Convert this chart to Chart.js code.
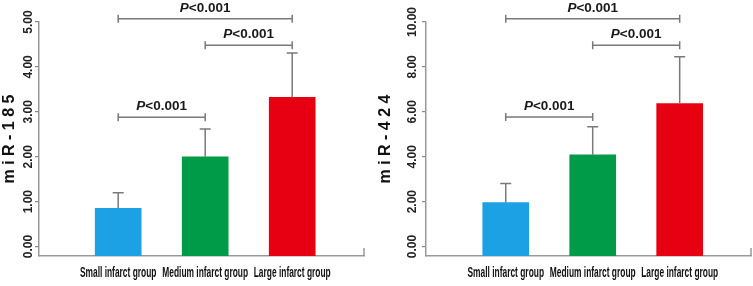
<!DOCTYPE html>
<html>
<head>
<meta charset="utf-8">
<script src="https://cdn.jsdelivr.net/npm/chart.js@4.4.0/dist/chart.umd.min.js"></script>
<style>
  html, body { margin: 0; padding: 0; background: #fff; }
  .panel { position: absolute; top: 0; }
</style>
</head>
<body>
<div class="panel" style="left:0;"><canvas id="chart185" width="376" height="286"></canvas></div>
<div class="panel" style="left:376px;"><canvas id="chart424" width="377" height="286"></canvas></div>
<script>
// ── data ──
const groups = ['Small infarct group', 'Medium infarct group', 'Large infarct group'];
const groupPos = [1, 2, 3];

const mir185Mean = [0.85, 2.0, 3.32];
const mir185Sd = [0.35, 0.62, 0.99];
const mir185Ticks = [0, 1, 2, 3, 4, 5];

const mir424Mean = [1.96, 4.09, 6.37];
const mir424Sd = [0.85, 1.25, 2.08];
const mir424Ticks = [0, 2, 4, 6, 8, 10];

// significance brackets: from group, to group, height, label
const pFrom = [1, 2, 1];
const pTo = [3, 3, 2];
const mir185PY = [5.07, 4.48, 2.88];
const mir424PY = [10.15, 8.97, 5.77];
const pLabels = ['P<0.001', 'P<0.001', 'P<0.001'];

const barColors = ['#1BA1E4', '#009B48', '#E60012'];
const lineGray = '#7a7a7a';

// error bars (upper whisker only), brackets, condensed group labels
const annotPlugin = {
    id: 'annot',
    afterDraw(chart) {
        const o = chart.options.plugins.annot;
        const ctx = chart.ctx;
        const xs = chart.scales.x, ys = chart.scales.y;
        const area = chart.chartArea;
        ctx.save();
        ctx.strokeStyle = lineGray;
        ctx.lineWidth = 1.5;

        // error bars
        const meta = chart.getDatasetMeta(0);
        meta.data.forEach((bar, i) => {
            const top = ys.getPixelForValue(o.mean[i] + o.sd[i]);
            ctx.beginPath();
            ctx.moveTo(bar.x, bar.y);
            ctx.lineTo(bar.x, top);
            ctx.moveTo(bar.x - 5.5, top);
            ctx.lineTo(bar.x + 5.5, top);
            ctx.stroke();
        });

        // brackets
        o.from.forEach((f, i) => {
            const x1 = xs.getPixelForValue(f);
            const x2 = xs.getPixelForValue(o.to[i]);
            const y = ys.getPixelForValue(o.py[i]);
            ctx.strokeStyle = lineGray;
            ctx.beginPath();
            ctx.moveTo(x1, y); ctx.lineTo(x2, y);
            ctx.moveTo(x1, y - 4); ctx.lineTo(x1, y + 4);
            ctx.moveTo(x2, y - 4); ctx.lineTo(x2, y + 4);
            ctx.stroke();

            // label: italic P + rest
            const lbl = o.labels[i];
            const head = lbl.charAt(0), rest = lbl.slice(1);
            const fItal = 'italic bold 13.5px "Liberation Sans", Arial, sans-serif';
            const fBold = 'bold 13.5px "Liberation Sans", Arial, sans-serif';
            ctx.font = fItal;
            const w1 = ctx.measureText(head).width;
            ctx.font = fBold;
            const w2 = ctx.measureText(rest).width;
            const tx = (x1 + x2) / 2 - (w1 + w2) / 2;
            ctx.fillStyle = '#1a1a1a';
            ctx.textBaseline = 'alphabetic';
            ctx.textAlign = 'left';
            ctx.font = fItal;
            ctx.fillText(head, tx, y - 7);
            ctx.font = fBold;
            ctx.fillText(rest, tx + w1, y - 7);
        });

        // group names under the axis, squeezed like the original condensed face
        ctx.fillStyle = '#111';
        ctx.font = 'bold 15px "Liberation Sans", Arial, sans-serif';
        ctx.textAlign = 'center';
        ctx.textBaseline = 'alphabetic';
        groupPos.forEach((p, i) => {
            const cx = xs.getPixelForValue(p);
            ctx.save();
            ctx.translate(cx, area.bottom + 21);
            ctx.scale(0.56, 1);
            ctx.fillText(groups[i], 0, 0);
            ctx.restore();
        });

        // stub at the right end of the x axis
        ctx.strokeStyle = '#999';
        ctx.beginPath();
        ctx.moveTo(area.right, area.bottom - 8);
        ctx.lineTo(area.right, area.bottom);
        ctx.stroke();
        ctx.restore();
    }
};

function makeChart(canvasId, opts) {
    const ctx = document.getElementById(canvasId);
    return new Chart(ctx, {
        type: 'bar',
        data: {
            datasets: [{
                data: groupPos.map((p, i) => ({ x: p, y: opts.mean[i] })),
                backgroundColor: barColors,
                borderWidth: 0,
                barThickness: 46,
                base: opts.yMin
            }]
        },
        options: {
            responsive: false,
            animation: false,
            devicePixelRatio: 1,
            layout: { padding: { top: 22, right: opts.padRight, left: 0, bottom: 0 } },
            plugins: {
                legend: { display: false },
                tooltip: { enabled: false },
                annot: {
                    mean: opts.mean, sd: opts.sd,
                    from: pFrom, to: pTo, py: opts.py, labels: pLabels
                }
            },
            scales: {
                x: {
                    type: 'linear',
                    offset: false,
                    min: opts.xMin,
                    max: opts.xMax,
                    afterBuildTicks: s => { s.ticks = groupPos.map(v => ({ value: v })); },
                    afterFit: s => { s.height = 30; },
                    grid: { display: false, offset: false },
                    border: { display: true, color: '#999', width: 1.5 },
                    ticks: { display: false }
                },
                y: {
                    type: 'linear',
                    min: opts.yMin,
                    max: opts.yMax,
                    afterBuildTicks: s => { s.ticks = opts.ticks.map(v => ({ value: v })); },
                    afterFit: s => { s.width = opts.axisX; },
                    grid: { display: true, drawOnChartArea: false, drawTicks: true, tickLength: 4, color: '#888', lineWidth: 1.2 },
                    border: { display: true, color: '#999', width: 1.5 },
                    title: {
                        display: true,
                        text: opts.title,
                        color: '#111',
                        padding: 0,
                        font: { family: '"Liberation Sans", Arial', weight: 'bold', size: 16 }
                    },
                    ticks: {
                        minRotation: 90,
                        maxRotation: 90,
                        crossAlign: 'center',
                        padding: opts.tickPad,
                        color: '#222',
                        font: { family: '"Liberation Sans", Arial', weight: 'bold', size: 12 },
                        callback: v => Number(v).toFixed(2)
                    }
                }
            }
        },
        plugins: [annotPlugin]
    });
}

makeChart('chart185', {
    mean: mir185Mean, sd: mir185Sd, ticks: mir185Ticks, py: mir185PY,
    title: 'm i R - 1 8 5',
    yMin: -0.21, yMax: 5, xMin: 0.09, xMax: 3.825,
    axisX: 39, padRight: 12, tickPad: -5
});

makeChart('chart424', {
    mean: mir424Mean, sd: mir424Sd, ticks: mir424Ticks, py: mir424PY,
    title: 'm i R - 4 2 4',
    yMin: -0.42, yMax: 10, xMin: 0.083, xMax: 3.82,
    axisX: 50, padRight: 2, tickPad: -6
});
</script>
</body>
</html>
